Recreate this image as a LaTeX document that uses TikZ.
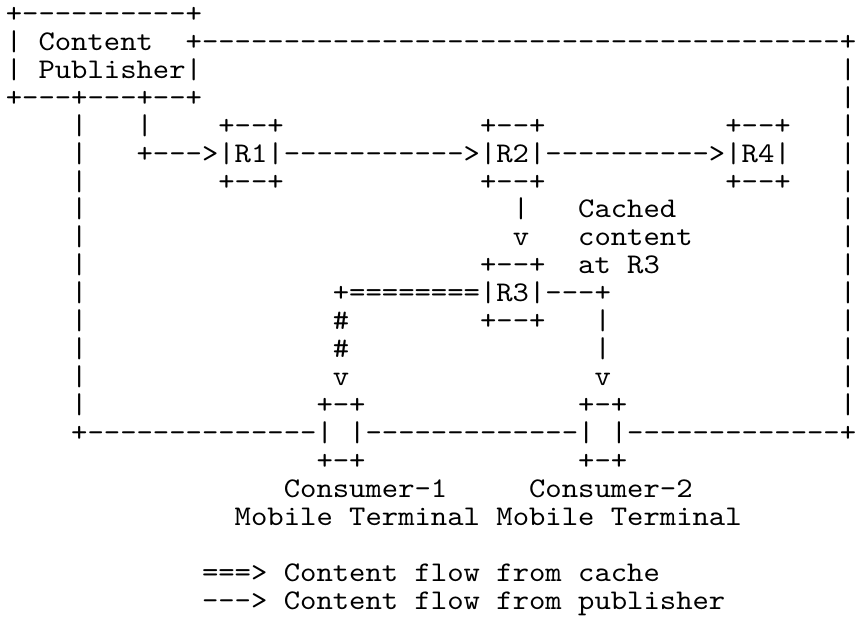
\documentclass[tikz,border=0pt]{standalone}
\usepackage{fontspec}
\usepackage{graphicx}
\setmonofont{lmmono10-regular.otf}
\tikzset{
  asc/.style={anchor=base west, inner sep=0pt, outer sep=0pt, text=black,
    font=\ttfamily\fontsize{28.5}{28}\selectfont}
}
% #1 name, #2 column, #3 row, #4 text
\newcommand\seg[4]{\node[asc] (#1) at ({5.8+16.353*#2},{-(22.3+27.95*#3)}) {\scalebox{1.0929}[1]{#4}};}
\begin{document}
\begin{tikzpicture}[x=1pt,y=1pt]
\path[fill=white] (0,0) rectangle (858,-642);
\useasboundingbox (0,0) rectangle (858,-642);
% row 0-3: publisher box
\seg{pubtop}{0}{0}{+----------+}
\seg{publ1}{0}{1}{|}
\seg{content}{2}{1}{Content}
\seg{toprule}{11}{1}{+---------------------------------------+}
\seg{publ2}{0}{2}{|}
\seg{publisher}{2}{2}{Publisher|}
\seg{r2}{51}{2}{|}
\seg{pubbot}{0}{3}{+---+---+--+}
\seg{r3}{51}{3}{|}
% row 4-6: R1 R2 R4
\seg{l4}{4}{4}{|}
\seg{m4}{8}{4}{|}
\seg{rAtop}{13}{4}{+--+}
\seg{rBtop}{29}{4}{+--+}
\seg{rDtop}{44}{4}{+--+}
\seg{r4}{51}{4}{|}
\seg{l5}{4}{5}{|}
\seg{chain}{8}{5}{+--->|R1|----------->|R2|---------->|R4|}
\seg{r5}{51}{5}{|}
\seg{l6}{4}{6}{|}
\seg{rAbot}{13}{6}{+--+}
\seg{rBbot}{29}{6}{+--+}
\seg{rDbot}{44}{6}{+--+}
\seg{r6}{51}{6}{|}
% row 7-9
\seg{l7}{4}{7}{|}
\seg{down1}{31}{7}{|}
\seg{cached}{35}{7}{Cached}
\seg{r7}{51}{7}{|}
\seg{l8}{4}{8}{|}
\seg{down2}{31}{8}{v}
\seg{contentb}{35}{8}{content}
\seg{r8}{51}{8}{|}
\seg{l9}{4}{9}{|}
\seg{rCtop}{29}{9}{+--+}
\seg{at}{35}{9}{at}
\seg{rthree}{38}{9}{R3}
\seg{r9}{51}{9}{|}
% row 10-14
\seg{l10}{4}{10}{|}
\seg{cache}{20}{10}{+========|R3|---+}
\seg{r10}{51}{10}{|}
\seg{l11}{4}{11}{|}
\seg{hashA}{20}{11}{\#}
\seg{rCbot}{29}{11}{+--+}
\seg{vA}{36}{11}{|}
\seg{r11}{51}{11}{|}
\seg{l12}{4}{12}{|}
\seg{hashB}{20}{12}{\#}
\seg{vB}{36}{12}{|}
\seg{r12}{51}{12}{|}
\seg{l13}{4}{13}{|}
\seg{arrA}{20}{13}{v}
\seg{arrB}{36}{13}{v}
\seg{r13}{51}{13}{|}
\seg{l14}{4}{14}{|}
\seg{cAtop}{19}{14}{+-+}
\seg{cBtop}{35}{14}{+-+}
\seg{r14}{51}{14}{|}
% row 15-16
\seg{botA}{4}{15}{+--------------|}
\seg{botB}{21}{15}{|-------------|}
\seg{botC}{37}{15}{|-------------+}
\seg{cAbot}{19}{16}{+-+}
\seg{cBbot}{35}{16}{+-+}
% row 17-18 labels
\seg{consA}{17}{17}{Consumer-1}
\seg{consB}{32}{17}{Consumer-2}
\seg{mobA}{14}{18}{Mobile}
\seg{termA}{21}{18}{Terminal}
\seg{mobB}{30}{18}{Mobile}
\seg{termB}{37}{18}{Terminal}
% legend
\seg{legA}{12}{20}{===>}
\seg{legAa}{17}{20}{Content}
\seg{legAb}{25}{20}{flow}
\seg{legAc}{30}{20}{from}
\seg{legAd}{35}{20}{cache}
\seg{legB}{12}{21}{--->}
\seg{legBa}{17}{21}{Content}
\seg{legBb}{25}{21}{flow}
\seg{legBc}{30}{21}{from}
\seg{legBd}{35}{21}{publisher}
\end{tikzpicture}
\end{document}
